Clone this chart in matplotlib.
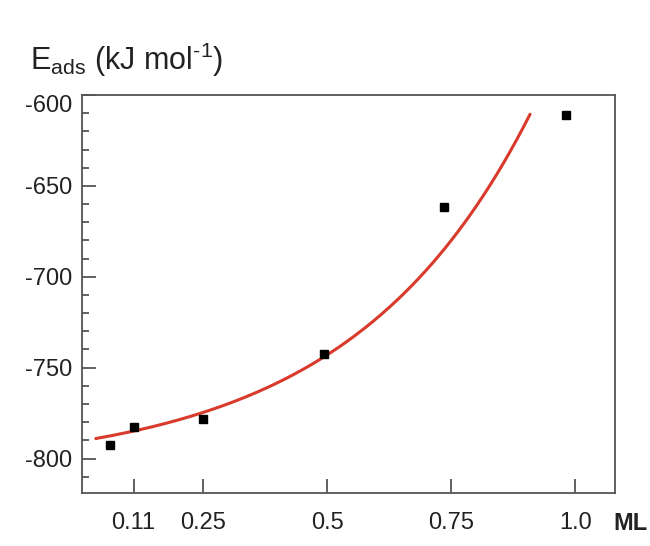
import numpy as np
import matplotlib
matplotlib.use("Agg")
import matplotlib.pyplot as plt
from matplotlib.ticker import MultipleLocator

plt.rcParams['font.family'] = ['Liberation Sans', 'DejaVu Sans']
plt.rcParams['mathtext.fontset'] = 'custom'
plt.rcParams['mathtext.rm'] = 'Liberation Sans'
plt.rcParams['axes.unicode_minus'] = False

# coverage (ML) and adsorption energy (kJ/mol)
coverage = [0.0625, 0.111, 0.25, 0.494, 0.736, 0.982]
e_ads = [-792.3, -782.4, -778.0, -742.3, -661.5, -611.0]

x_ticks = [0.11, 0.25, 0.5, 0.75, 1.0]
x_tick_labels = ["0.11", "0.25", "0.5", "0.75", "1.0"]
y_ticks = [-800, -750, -700, -650, -600]

# exponential trend line  E = a + b*exp(c*x)
fit_a, fit_b, fit_c = -806.7, 16.1, 2.75
fit_range = (0.034, 0.909)

fig = plt.figure(figsize=(6.5, 5.46), dpi=100)
ax = fig.add_axes([0.126, 0.097, 0.820, 0.729])

xf = np.linspace(fit_range[0], fit_range[1], 200)
ax.plot(xf, fit_a + fit_b*np.exp(fit_c*xf), color='#d93a2b', lw=2.2,
        solid_capstyle='round', zorder=2)
ax.plot(coverage, e_ads, 's', color='black', ms=5.5, zorder=3)

ax.set_xlim(0.006, 1.08)
ax.set_ylim(-819, -600)
ax.set_xticks(x_ticks)
ax.set_xticklabels(x_tick_labels)
ax.set_yticks(y_ticks)
ax.yaxis.set_minor_locator(MultipleLocator(10))

frame = '#555555'
for sp in ax.spines.values():
    sp.set_color(frame)
    sp.set_linewidth(1.3)
ax.tick_params(axis='both', which='major', direction='in', length=10,
               width=1.3, color=frame, labelsize=17, labelcolor='#222222')
ax.tick_params(axis='y', which='minor', direction='in', length=5,
               width=1.3, color=frame)
ax.tick_params(axis='y', pad=7)
ax.tick_params(axis='x', pad=14)

# top label sits a bit below its tick in the original
ax.get_yticklabels()[-1].set_verticalalignment('top')

fig.text(0.046, 0.89,
         r'$\mathregular{E_{ads}}$ (kJ mol$\mathregular{^{\text{-1}}}$)',
         fontsize=22, color='#222222', va='center', ha='left')
fig.text(0.997, 0.042, 'ML', fontsize=17, fontweight='bold',
         color='#222222', ha='right', va='center')

fig.savefig('out.png', dpi=100, facecolor='white')
